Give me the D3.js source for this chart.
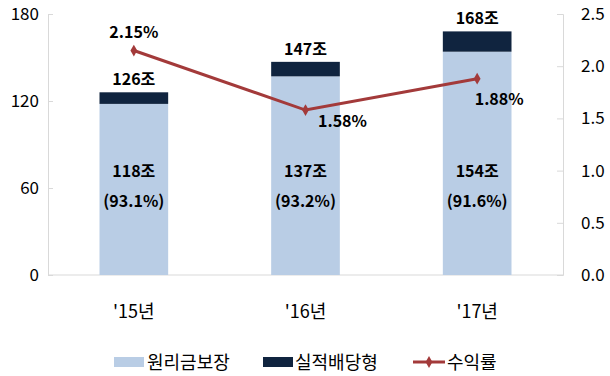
<!DOCTYPE html>
<html>
<head>
<meta charset="utf-8">
<script src="https://cdn.jsdelivr.net/npm/d3@7"></script>
<style>
  body { margin: 0; background: #fff; }
  text { font-family: "Noto Sans CJK KR", "Noto Sans", sans-serif; }
</style>
</head>
<body>
<div id="chart"></div>
<script>
// 퇴직연금 적립금 및 수익률

const width = 610, height = 376;
const margin = { top: 14, right: 47, bottom: 101, left: 48 };

const years = ["'15년", "'16년", "'17년"];
const guaranteed = [118, 137, 154];   // 원리금보장 (조)
const totals = [126, 147, 168];       // 합계 (조)
const shares = ["93.1%", "93.2%", "91.6%"];
const returns = [2.15, 1.58, 1.88];   // 수익률 (%)
const leftTicks = [0, 60, 120, 180];
const rightTicks = [0, 0.5, 1.0, 1.5, 2.0, 2.5];

const lightBlue = "#b9cde5",
  navy = "#10243f",
  red = "#a33a3a",
  gridGray = "#d9d9d9";

const svg = d3.select("#chart")
  .append("svg")
  .attr("width", width)
  .attr("height", height)
  .attr("viewBox", [0, 0, width, height]);

const x = d3.scaleBand()
  .domain(years)
  .range([margin.left, width - margin.right])
  .paddingInner(0.6)
  .paddingOuter(0.3);

const y = d3.scaleLinear()
  .domain([0, 180])
  .range([height - margin.bottom, margin.top]);

const y2 = d3.scaleLinear()
  .domain([0, 2.5])
  .range([height - margin.bottom, margin.top]);

// axes
const leftAxis = svg.append("g")
  .attr("transform", `translate(${margin.left},0)`)
  .call(d3.axisLeft(y).tickValues(leftTicks).tickSize(-5).tickPadding(9));

const rightAxis = svg.append("g")
  .attr("transform", `translate(${width - margin.right},0)`)
  .call(d3.axisRight(y2).tickValues(rightTicks).tickSize(-6).tickPadding(18)
    .tickFormat(d3.format(".1f")));

for (const g of [leftAxis, rightAxis]) {
  g.select(".domain").attr("stroke", gridGray);
  g.selectAll(".tick line").attr("stroke", gridGray);
  g.selectAll(".tick text")
    .attr("fill", "#000")
    .attr("font-size", 17)
    .style("font-family", "'Noto Sans CJK KR', sans-serif");
}

svg.append("line")
  .attr("x1", margin.left)
  .attr("x2", width - margin.right)
  .attr("y1", y(0))
  .attr("y2", y(0))
  .attr("stroke", gridGray);

// bars
const rows = years.map((yr, i) => ({
  year: yr, base: guaranteed[i], total: totals[i], share: shares[i], ret: returns[i]
}));

svg.append("g")
  .selectAll("rect")
  .data(rows)
  .join("rect")
  .attr("x", d => x(d.year))
  .attr("width", x.bandwidth())
  .attr("y", d => y(d.base))
  .attr("height", d => y(0) - y(d.base))
  .attr("fill", lightBlue);

svg.append("g")
  .selectAll("rect")
  .data(rows)
  .join("rect")
  .attr("x", d => x(d.year))
  .attr("width", x.bandwidth())
  .attr("y", d => y(d.total))
  .attr("height", d => y(d.base) - y(d.total))
  .attr("fill", navy);

// x labels
svg.append("g")
  .selectAll("text")
  .data(years)
  .join("text")
  .attr("x", d => x(d) + x.bandwidth() / 2)
  .attr("y", y(0) + 43)
  .attr("text-anchor", "middle")
  .attr("font-size", 18)
  .text(d => d);

// bar labels
const labelG = svg.append("g")
  .attr("font-weight", "bold")
  .attr("font-size", 16)
  .attr("text-anchor", "middle")
  .attr("fill", "#000");

labelG.selectAll(".tot")
  .data(rows)
  .join("text")
  .attr("class", "tot")
  .attr("x", d => x(d.year) + x.bandwidth() / 2)
  .attr("y", d => y(d.total) - 7)
  .text(d => d.total + "조");

labelG.selectAll(".base")
  .data(rows)
  .join("text")
  .attr("class", "base")
  .attr("x", d => x(d.year) + x.bandwidth() / 2)
  .attr("y", y(60) - 11)
  .text(d => d.base + "조");

labelG.selectAll(".share")
  .data(rows)
  .join("text")
  .attr("class", "share")
  .attr("x", d => x(d.year) + x.bandwidth() / 2)
  .attr("y", y(60) + 19)
  .text(d => `(${d.share})`);

// return line
const line = d3.line()
  .x(d => x(d.year) + x.bandwidth() / 2)
  .y(d => y2(d.ret));

svg.append("path")
  .datum(rows)
  .attr("fill", "none")
  .attr("stroke", red)
  .attr("stroke-width", 3)
  .attr("d", line);

const diamond = d3.symbol().type(d3.symbolDiamond).size(40);

svg.append("g")
  .selectAll("path")
  .data(rows)
  .join("path")
  .attr("transform", d => `translate(${x(d.year) + x.bandwidth() / 2},${y2(d.ret)})`)
  .attr("d", diamond)
  .attr("fill", red);

// return labels: first above, others below-right
const retOffsets = [[0, -13], [37, 17], [22, 26]];
labelG.selectAll(".ret")
  .data(rows)
  .join("text")
  .attr("class", "ret")
  .attr("x", (d, i) => x(d.year) + x.bandwidth() / 2 + retOffsets[i][0])
  .attr("y", (d, i) => y2(d.ret) + retOffsets[i][1])
  .text(d => d3.format(".2f")(d.ret) + "%");

// legend
const legend = svg.append("g")
  .attr("font-size", 18);
const ly = 362;

legend.append("rect")
  .attr("x", 114).attr("y", ly - 5).attr("width", 30).attr("height", 10)
  .attr("fill", lightBlue);
legend.append("text").attr("x", 147).attr("y", ly + 7).text("원리금보장");

legend.append("rect")
  .attr("x", 263).attr("y", ly - 5).attr("width", 30).attr("height", 10)
  .attr("fill", navy);
legend.append("text").attr("x", 295).attr("y", ly + 7).text("실적배당형");

legend.append("line")
  .attr("x1", 413).attr("x2", 445).attr("y1", ly).attr("y2", ly)
  .attr("stroke", red).attr("stroke-width", 3);
legend.append("path")
  .attr("transform", `translate(429,${ly})`)
  .attr("d", diamond)
  .attr("fill", red);
legend.append("text").attr("x", 447).attr("y", ly + 7).text("수익률");
</script>
</body>
</html>
